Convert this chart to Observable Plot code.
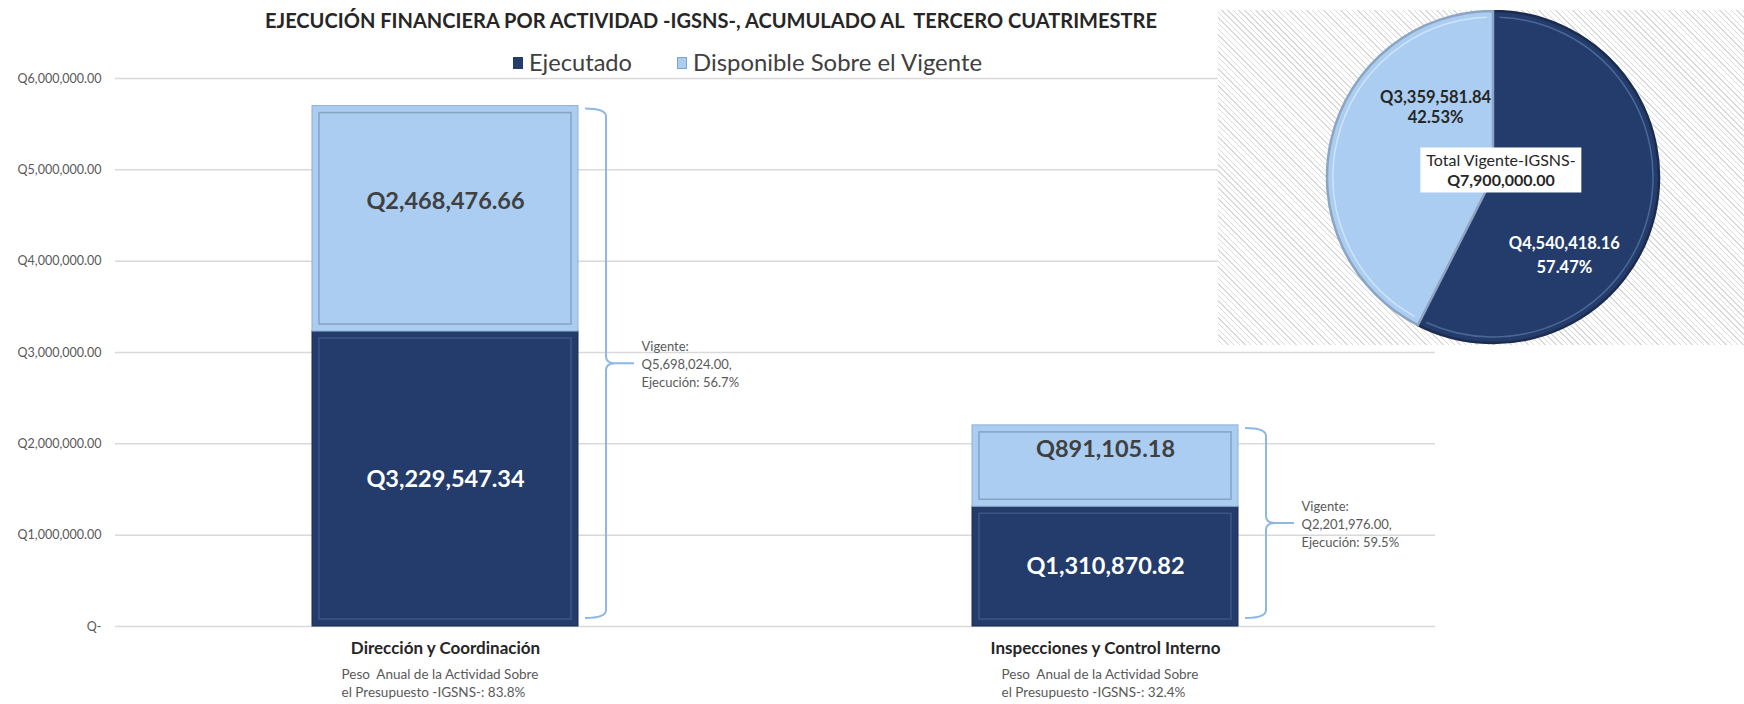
<!DOCTYPE html>
<html><head><meta charset="utf-8">
<script src="https://cdn.jsdelivr.net/npm/d3@7"></script>
<script src="https://cdn.jsdelivr.net/npm/@observablehq/plot@0.6"></script>
<style>
body{margin:0;background:#fff;}
#wrap{position:relative;width:1744px;height:704px;overflow:hidden;font-family:Lato,"Liberation Sans",sans-serif;background:#fff;}
#bars{position:absolute;left:0;top:0;}
#bars svg{white-space:pre;}
.fit{position:absolute;white-space:pre;transform-origin:0 50%;}
#title{top:7px;font-weight:700;font-size:21px;color:#262626;}
.leg{font-size:23px;color:#404040;top:48px;}
.sw{position:absolute;width:10px;height:12px;top:57px;}
#piebox{position:absolute;left:1218px;top:10px;width:526px;height:335px;
  background:repeating-linear-gradient(45deg,#ffffff 0px,#ffffff 3px,#dadada 3px,#dadada 4px);}
#pie{position:absolute;left:0;top:0;}
#pietotal{position:absolute;background:#fff;font-size:16px;color:#262626;text-align:center;line-height:1.22;padding:3px 6px;transform:translate(-50%,-50%);white-space:nowrap;}
</style></head><body>
<div id="wrap">
  <div id="bars"></div>
  <div id="title" class="fit"></div>
  <div class="sw" id="sw0"></div><div id="leg0" class="fit leg"></div>
  <div class="sw" id="sw1"></div><div id="leg1" class="fit leg"></div>
  <div id="piebox"><div id="pie"></div><div id="pietotal"></div></div>
</div>
<script>
// ---- data ----
const titleText = "EJECUCIÓN FINANCIERA POR ACTIVIDAD -IGSNS-, ACUMULADO AL  TERCERO CUATRIMESTRE";
const categories = ["Dirección y Coordinación", "Inspecciones y Control Interno"];
const series = ["Ejecutado", "Disponible Sobre el Vigente"];
const ejecutado = [3229547.34, 1310870.82];
const disponible = [2468476.66, 891105.18];
const pesoAnual = [83.8, 32.4];
const yTicks = [0, 1000000, 2000000, 3000000, 4000000, 5000000, 6000000];
const pieTitle = "Total Vigente-IGSNS-";

// ---- styles ----
const colors = ["#243c6b", "#aacdf1"];
const edge = ["#1a2c50", "#8fb0d3"];
const innerEdge = ["#3a5586", "#87a3c2"];
const textCol = ["#ffffff", "#404040"];

const fmtQ = v => "Q" + d3.format(",.2f")(v);

// derived tables
const rows = categories.flatMap((c, i) => [
  {cat: c, s: 0, y1: 0, y2: ejecutado[i], value: ejecutado[i]},
  {cat: c, s: 1, y1: ejecutado[i], y2: ejecutado[i] + disponible[i], value: disponible[i]}
]);
const totals = categories.map((c, i) => ({
  cat: c, total: ejecutado[i] + disponible[i], ejec: ejecutado[i], peso: pesoAnual[i]
}));

function braces(index, scales) {
  const sx = scales.x, sy = scales.y;
  const bw = typeof sx.bandwidth === "function" ? sx.bandwidth() : (sx.bandwidth ?? scales.scales.x.bandwidth);
  const g = d3.create("svg:g").attr("fill", "none").attr("stroke", "#8db8e6").attr("stroke-width", 2);
  for (const t of totals) {
    const r = sx(t.cat) + bw;
    const x0 = r + 7, xv = r + 28, xt = r + 56;
    const yT = sy(t.total) + 3, yB = sy(0) - 8, yM = (yT + yB) / 2;
    const p = d3.path();
    p.moveTo(x0, yT);
    p.quadraticCurveTo(xv, yT, xv, yT + 8);
    p.lineTo(xv, yM - 7);
    p.quadraticCurveTo(xv, yM, xv + 9, yM);
    p.lineTo(xt, yM);
    p.moveTo(xv + 9, yM);
    p.quadraticCurveTo(xv, yM, xv, yM + 7);
    p.lineTo(xv, yB - 8);
    p.quadraticCurveTo(xv, yB, x0, yB);
    g.append("path").attr("d", p.toString());
  }
  return g.node();
}

const bars = Plot.plot({
  width: 1744, height: 704,
  marginTop: 78, marginBottom: 78, marginLeft: 115, marginRight: 309,
  style: {fontFamily: "Lato, 'Liberation Sans', sans-serif", background: "transparent", overflow: "visible"},
  x: {domain: categories, paddingInner: 0.597, paddingOuter: 0.2985, axis: null},
  y: {domain: [0, 6000000], axis: null},
  marks: [
    Plot.gridY(yTicks, {stroke: "#d9d9d9", strokeOpacity: 1, strokeWidth: 1.5}),
    Plot.axisY(yTicks, {tickSize: 0, tickPadding: 14, fontSize: 12.5, fill: "#595959", label: null,
      tickFormat: v => v === 0 ? "Q-" : fmtQ(v)}),
    ...[0, 1].map(s => Plot.barY(rows.filter(d => d.s === s), {x: "cat", y1: "y1", y2: "y2",
      fill: colors[s], stroke: edge[s], strokeWidth: 1})),
    ...[0, 1].map(s => Plot.barY(rows.filter(d => d.s === s), {x: "cat", y1: "y1", y2: "y2",
      fill: "none", stroke: innerEdge[s], strokeWidth: 1.5, inset: 7})),
    Plot.text(rows.filter(d => d.s === 0), {x: "cat", y: d => (d.y1 + d.y2) / 2, text: d => fmtQ(d.value),
      fill: textCol[0], fontWeight: 700, fontSize: 23.5}),
    Plot.text(rows.filter(d => d.s === 1), {x: "cat", y: d => (d.y1 + d.y2) / 2, text: d => fmtQ(d.value),
      fill: textCol[1], fontWeight: 700, fontSize: 23.5, dy: -17}),
    braces,
    Plot.text(totals, {x: "cat", y: d => d.total / 2, textAnchor: "start", dx: 196, dy: -3, fontSize: 13, fill: "#595959",
      lineHeight: 1.38, text: d => `Vigente:\n${fmtQ(d.total)},\nEjecución: ${(d.ejec / d.total * 100).toFixed(1)}%`}),
    Plot.text(totals, {x: "cat", frameAnchor: "bottom", dy: 27, text: "cat", fontWeight: 700, fontSize: 17, fill: "#262626"}),
    Plot.text(totals, {x: "cat", frameAnchor: "bottom", dy: 70, dx: -104, textAnchor: "start", fontSize: 13.5, fill: "#595959",
      lineHeight: 1.28, text: d => `Peso  Anual de la Actividad Sobre\nel Presupuesto -IGSNS-: ${d.peso}%`})
  ]
});
document.getElementById("bars").append(bars);

// ---- title & legend ----
function fit(el, text, left, width) {
  el.textContent = text;
  el.style.left = left + "px";
  const w = el.getBoundingClientRect().width;
  el.style.transform = `scaleX(${width / w})`;
}
fit(document.getElementById("title"), titleText, 265, 892);
const sw = [document.getElementById("sw0"), document.getElementById("sw1")];
sw[0].style.left = "513px"; sw[0].style.background = colors[0];
sw[1].style.left = "677px"; sw[1].style.background = colors[1]; sw[1].style.border = "1px solid #7fa4cc"; sw[1].style.width = "8px"; sw[1].style.height = "10px";
fit(document.getElementById("leg0"), series[0], 529, 103);
fit(document.getElementById("leg1"), series[1], 693, 289);

// ---- pie ----
const pieData = series.map((s, i) => ({s: i, value: d3.sum(i === 0 ? ejecutado : disponible)}));
const pieTotal = d3.sum(pieData, d => d.value);
const pieArcs = d3.pie().sort(null).value(d => d.value)(pieData);
const pieLabels = pieArcs.map(a => {
  const m = (a.startAngle + a.endAngle) / 2;
  return {s: a.data.s, x: 0.6 * Math.sin(m), y: 0.6 * Math.cos(m),
    text: fmtQ(a.data.value) + "\n" + (a.data.value / pieTotal * 100).toFixed(2) + "%"};
});
const pieEdge = ["#1b2c4f", "#8ba5c2"];
const pieInner = ["#4a6797", "#cfe4f9"];
function pieMark(index, scales) {
  const cx = scales.x(0), cy = scales.y(0), r = scales.x(1) - scales.x(0);
  const g = d3.create("svg:g").attr("transform", `translate(${cx},${cy})`);
  const arc = d3.arc().innerRadius(0).outerRadius(r);
  pieArcs.forEach((a, i) => {
    g.append("path").attr("d", arc(a)).attr("fill", colors[i]).attr("stroke", pieEdge[i]).attr("stroke-width", 2.5);
  });
  pieArcs.forEach((a, i) => {
    const p = d3.path();
    p.arc(0, 0, r - 6, a.startAngle - Math.PI / 2 + 0.04, a.endAngle - Math.PI / 2 - 0.04);
    g.append("path").attr("d", p.toString()).attr("fill", "none").attr("stroke", pieInner[i]).attr("stroke-width", 1.5);
  });
  return g.node();
}
const pcx = 275, pcy = 167, pr = 166;
const pie = Plot.plot({
  width: 526, height: 335, margin: 0,
  style: {fontFamily: "Lato, 'Liberation Sans', sans-serif", background: "transparent"},
  x: {domain: [-1, 1], range: [pcx - pr, pcx + pr], axis: null},
  y: {domain: [-1, 1], range: [pcy + pr, pcy - pr], axis: null},
  marks: [
    pieMark,
    Plot.text(pieLabels.filter(d => d.s === 0), {x: "x", y: "y", text: "text", fill: "#ffffff", fontWeight: 700,
      fontSize: 16.5, lineHeight: 1.42, dx: -26, dy: 53}),
    Plot.text(pieLabels.filter(d => d.s === 1), {x: "x", y: "y", text: "text", fill: "#262626", fontWeight: 700,
      fontSize: 16.5, lineHeight: 1.2, dx: 39, dy: -48})
  ]
});
document.getElementById("pie").append(pie);
const pt = document.getElementById("pietotal");
pt.innerHTML = `${pieTitle}<br><b>${fmtQ(pieTotal)}</b>`;
pt.style.left = (pcx + 8) + "px";
pt.style.top = (pcy - 7) + "px";
</script>
</body></html>
